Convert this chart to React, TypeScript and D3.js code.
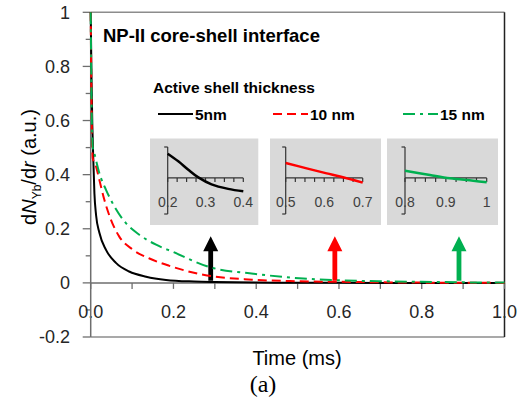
import * as d3 from "d3";

// main curves, time (ms) vs dN/dr (a.u.)
const blackT = [0, 0.002, 0.004, 0.006, 0.009, 0.013, 0.021, 0.037, 0.061, 0.093, 0.134, 0.182, 0.25, 0.3, 0.4, 0.5, 0.7, 1.0];
const blackV = [1, 0.75, 0.58, 0.47, 0.33, 0.25, 0.185, 0.122, 0.074, 0.042, 0.023, 0.011, 0.005, 0.003, 0.001, 0.0005, 0, 0];

const redT = [0, 0.002, 0.005, 0.0128, 0.021, 0.033, 0.049, 0.069, 0.1015, 0.142, 0.19, 0.272, 0.39, 0.5, 0.6, 0.8, 1.0];
const redV = [1, 0.66, 0.46, 0.43, 0.38, 0.307, 0.233, 0.171, 0.123, 0.09, 0.063, 0.03, 0.012, 0.006, 0.004, 0.001, 0];

const greenT = [0, 0.002, 0.005, 0.0087, 0.021, 0.037, 0.057, 0.085, 0.1175, 0.158, 0.198, 0.288, 0.393, 0.514, 0.595, 0.7, 0.8, 0.9, 1.0];
const greenV = [1, 0.68, 0.5, 0.479, 0.405, 0.344, 0.283, 0.221, 0.178, 0.141, 0.115, 0.058, 0.034, 0.016, 0.01, 0.006, 0.004, 0.002, 0.001];

const seriesNames = ["5nm", "10 nm", "15 nm"];

const yTicks = [-0.2, 0, 0.2, 0.4, 0.6, 0.8, 1];
const yTickLabels = ["-0.2", "0", "0.2", "0.4", "0.6", "0.8", "1"];
const xTicks = [0, 0.2, 0.4, 0.6, 0.8, 1.0];
const xTickLabels = ["0.0", "0.2", "0.4", "0.6", "0.8", "1.0"];

// arrows pointing at the zoomed regions
const arrowT = [0.29, 0.59, 0.89];

// insets (zoomed tails)
const inset1T = [0.2, 0.228, 0.2545, 0.281, 0.316, 0.36, 0.4];
const inset1V = [0.0235, 0.0161, 0.008, 0.0005, -0.0062, -0.0106, -0.013];
const inset2T = [0.5, 0.5545, 0.6065, 0.641, 0.7];
const inset2V = [0.0145, 0.0093, 0.0044, 0.0014, -0.0046];
const inset3T = [0.8, 0.861, 0.91, 0.967, 1.0];
const inset3V = [0.007, 0.0028, -0.0004, -0.0027, -0.0043];
const insetTicks = [
  [0.2, 0.3, 0.4],
  [0.5, 0.6, 0.7],
  [0.8, 0.9, 1],
];
const insetTickLabels = [
  ["0.2", "0.3", "0.4"],
  ["0.5", "0.6", "0.7"],
  ["0.8", "0.9", "1"],
];

const colors = ["#000000", "#ff0000", "#00b050"];
const dashes = [null, "9,5", "12,5,3,5"];
const FONT = "'Liberation Sans', Arial, sans-serif";

export default function App() {
  const x = d3.scaleLinear().domain([0, 1]).range([90.7, 504.5]);
  const y = d3.scaleLinear().domain([-0.2, 1]).range([337, 12.3]);
  const line = d3
    .line<[number, number]>()
    .x((d) => x(d[0]))
    .y((d) => y(d[1]))
    .curve(d3.curveMonotoneX);

  const series = [
    { t: blackT, v: blackV },
    { t: redT, v: redV },
    { t: greenT, v: greenV },
  ];

  const minorY = d3.range(-2, 11).map((i) => i / 10);
  const minorX = d3.range(0, 11).map((i) => i / 10);

  // inset layout
  const insetBox = [
    { x0: 150, x1: 258.3, ax0: 167.7, ax1: 243.3 },
    { x0: 270, x1: 381, ax0: 285.7, ax1: 362.7 },
    { x0: 387, x1: 498, ax0: 405, ax1: 486.7 },
  ];
  const insetData = [
    { t: inset1T, v: inset1V },
    { t: inset2T, v: inset2V },
    { t: inset3T, v: inset3V },
  ];
  const iy = d3.scaleLinear().domain([-0.035, 0.03]).range([214, 147]);

  const legendX = [158, 273, 403];

  return (
    <svg
      width={525}
      height={411}
      style={{ position: "absolute", left: 0, top: 0, background: "#fff" }}
      fontFamily={FONT}
    >
      {/* frame */}
      <line x1={x(0)} x2={x(1)} y1={y(1)} y2={y(1)} stroke="#8c8c8c" strokeWidth={1.5} />
      <line x1={x(0)} x2={x(1)} y1={y(-0.2)} y2={y(-0.2)} stroke="#8c8c8c" strokeWidth={1.5} />
      <line x1={x(1)} x2={x(1)} y1={y(1)} y2={y(-0.2)} stroke="#222" strokeWidth={1.5} />

      {/* y ticks */}
      {minorY.map((v) => {
        const major = Math.round(v * 10) % 2 === 0;
        return (
          <line
            key={"yt" + v}
            x1={x(0) - (major ? 8 : 5)}
            x2={x(0)}
            y1={y(v)}
            y2={y(v)}
            stroke="#6e6e6e"
            strokeWidth={1.3}
          />
        );
      })}
      {yTicks.map((v, i) => (
        <text
          key={"yl" + v}
          x={70}
          y={y(v)}
          dy="0.35em"
          textAnchor="end"
          fontSize={18}
          fill="#262626"
        >
          {yTickLabels[i]}
        </text>
      ))}

      {/* x ticks */}
      {minorX.map((v) => (
        <line
          key={"xt" + v}
          x1={x(v)}
          x2={x(v)}
          y1={y(0)}
          y2={y(0) + 6}
          stroke="#6e6e6e"
          strokeWidth={1.3}
        />
      ))}
      {xTicks.map((v, i) => (
        <text
          key={"xl" + v}
          x={x(v)}
          y={318}
          textAnchor="middle"
          fontSize={18}
          fill="#262626"
        >
          {xTickLabels[i]}
        </text>
      ))}

      {/* axes */}
      <line x1={x(0)} x2={x(1)} y1={y(0)} y2={y(0)} stroke="#6e6e6e" strokeWidth={1.5} />
      <line x1={x(0)} x2={x(0)} y1={y(1)} y2={y(-0.2)} stroke="#6e6e6e" strokeWidth={1.5} />

      {/* arrows */}
      {arrowT.map((t, i) => {
        const cx = x(t);
        const yb = y(0.008);
        const yt = y(0.172);
        const hh = 15;
        const hw = 7.5;
        const sw = 2.4;
        const d = `M${cx - sw},${yb} L${cx - sw},${yt + hh} L${cx - hw},${yt + hh} L${cx},${yt} L${cx + hw},${yt + hh} L${cx + sw},${yt + hh} L${cx + sw},${yb} Z`;
        return <path key={"ar" + i} d={d} fill={colors[i]} />;
      })}

      {/* curves */}
      {series.map((s, i) => (
        <path
          key={"s" + i}
          d={line(s.t.map((t, j) => [t, s.v[j]] as [number, number])) || ""}
          fill="none"
          stroke={colors[i]}
          strokeWidth={2}
          strokeDasharray={dashes[i] || undefined}
        />
      ))}

      {/* title */}
      <text x={103} y={42} fontSize={18.5} fontWeight="bold" fill="#000">
        NP-II core-shell interface
      </text>
      <text x={153} y={93} fontSize={15.5} fontWeight="bold" fill="#000">
        Active shell thickness
      </text>

      {/* legend */}
      {seriesNames.map((n, i) => (
        <g key={"lg" + i}>
          <line
            x1={legendX[i]}
            x2={legendX[i] + 35}
            y1={114}
            y2={114}
            stroke={colors[i]}
            strokeWidth={2}
            strokeDasharray={dashes[i] || undefined}
          />
          <text x={legendX[i] + 37} y={119.5} fontSize={15.5} fontWeight="bold" fill="#000">
            {n}
          </text>
        </g>
      ))}

      {/* insets */}
      {insetBox.map((b, i) => {
        const a = insetTicks[i][0];
        const ix = d3.scaleLinear().domain([a, a + 0.2]).range([b.ax0, b.ax1]);
        const iline = d3
          .line<[number, number]>()
          .x((d) => ix(d[0]))
          .y((d) => iy(d[1]))
          .curve(d3.curveCatmullRom);
        const minor = d3.range(0, 9).map((k) => a + k * 0.025);
        const data = insetData[i];
        return (
          <g key={"in" + i}>
            <rect x={b.x0} y={138.5} width={b.x1 - b.x0} height={86.5} fill="#d9d9d9" />
            <line x1={b.ax0} x2={b.ax0} y1={iy(0.03)} y2={iy(-0.035)} stroke="#333" strokeWidth={1.2} />
            <line x1={b.ax0 - 3.5} x2={b.ax0} y1={iy(0.03)} y2={iy(0.03)} stroke="#333" strokeWidth={1.2} />
            <line x1={b.ax0 - 3.5} x2={b.ax0} y1={iy(-0.035)} y2={iy(-0.035)} stroke="#333" strokeWidth={1.2} />
            <line x1={b.ax0} x2={b.ax1} y1={iy(0)} y2={iy(0)} stroke="#333" strokeWidth={1.2} />
            {minor.map((m) => (
              <line key={"im" + m} x1={ix(m)} x2={ix(m)} y1={iy(0)} y2={iy(0) + 4} stroke="#333" strokeWidth={1.2} />
            ))}
            {insetTicks[i].map((v, k) => (
              <text key={"il" + k} x={ix(v)} y={207} textAnchor="middle" fontSize={14} fill="#404040">
                {insetTickLabels[i][k]}
              </text>
            ))}
            <path
              d={iline(data.t.map((t, j) => [t, data.v[j]] as [number, number])) || ""}
              fill="none"
              stroke={colors[i]}
              strokeWidth={2.5}
            />
          </g>
        );
      })}

      {/* axis titles */}
      <text transform="translate(36,167) rotate(-90)" textAnchor="middle" fontSize={20} fill="#000">
        d<tspan fontStyle="italic">N</tspan>
        <tspan fontSize={12} dy={5}>Yb</tspan>
        <tspan dy={-5}>/d</tspan>
        <tspan fontStyle="italic">r</tspan> (a.u.)
      </text>
      <text x={297} y={365} textAnchor="middle" fontSize={20} fill="#000">
        Time (ms)
      </text>
      <text x={263} y={392} textAnchor="middle" fontSize={24} fontFamily="'Liberation Serif', 'Times New Roman', serif" fill="#000">
        (a)
      </text>
    </svg>
  );
}
